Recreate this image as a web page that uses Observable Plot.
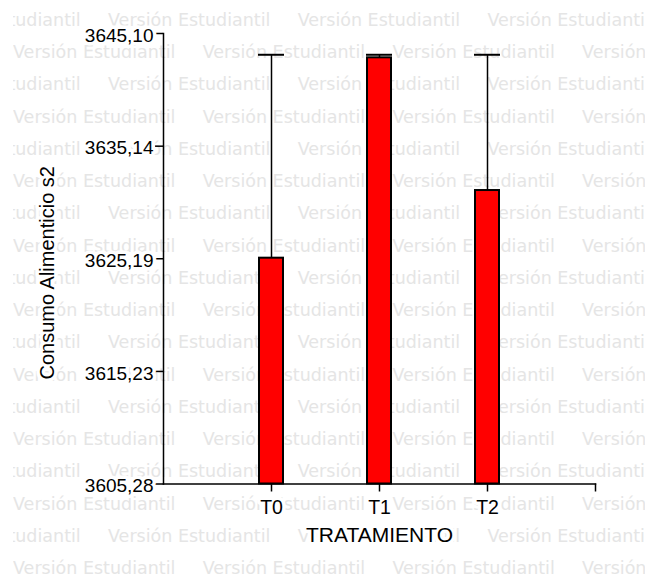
<!DOCTYPE html>
<html>
<head>
<meta charset="utf-8">
<script src="https://cdn.jsdelivr.net/npm/d3@7"></script>
<script src="https://cdn.jsdelivr.net/npm/@observablehq/plot@0.6"></script>
<style>
  body { margin: 0; background: #fff; }
  #wrap { position: relative; width: 649px; height: 578px; overflow: hidden; }
  #wm {
    position: absolute; left: 13px; top: 0; width: 632px; height: 578px; overflow: hidden;
    font-family: "DejaVu Sans", sans-serif; font-size: 17.5px; line-height: 17.5px;
    color: #e5e5e5; white-space: pre;
  }
  #wm span { position: absolute; }
  #chart { position: absolute; left: 0; top: 0; }
  g[aria-label="y-title"] text { letter-spacing: 2.6px; }
  g[aria-label="y-tick-labels"] text { letter-spacing: 0.5px; }
</style>
</head>
<body>
<div id="wrap"><div id="wm"></div><div id="chart"></div></div>
<script>
// Treatment means (bars) and the upper error of each one
const treatments = ["T0", "T1", "T2"];
const means = [3625.24, 3642.95, 3631.22];
const errors = [17.98, 0.27, 12.00];

// Y axis tick values (labelled with a decimal comma)
const yTicks = [3605.28, 3615.23, 3625.19, 3635.14, 3645.10];

const xTitle = "TRATAMIENTO";
const yTitle = "Consumo Alimenticio s2";
const watermark = "Versión Estudiantil";

const rows = treatments.map((t, i) => ({t, mean: means[i], hi: means[i] + errors[i]}));

// Layout
const W = 649, H = 578, mL = 163, mR = 54, mT = 33, mB = 94.5;
const padIn = 0.782, padOut = (1 + padIn) / 2;
const step = (W - mL - mR) / (treatments.length - padIn + 2 * padOut);
const yMin = yTicks[0], yMax = yTicks[yTicks.length - 1];
const fmt = v => v.toFixed(2).replace(".", ",");
const font = "'Liberation Sans', Arial, sans-serif";

const chart = Plot.plot({
  width: W,
  height: H,
  marginLeft: mL,
  marginRight: mR,
  marginTop: mT,
  marginBottom: mB,
  style: {background: "transparent", fontFamily: font, color: "black", overflow: "visible"},
  x: {type: "band", domain: treatments, paddingInner: padIn, paddingOuter: padOut},
  y: {domain: [yMin, yMax]},
  marks: [
    // axis lines
    Plot.frame({anchor: "left", strokeWidth: 1.5}),
    Plot.frame({anchor: "bottom", strokeWidth: 1.5}),
    // tick marks
    Plot.axisY(yTicks, {tickSize: 8, tickFormat: () => "", strokeWidth: 1.5, label: null}),
    Plot.axisX(treatments, {tickSize: 8, tickFormat: () => "", strokeWidth: 1.5, label: null}),
    // closing tick at the right end of the category axis
    Plot.ruleX([treatments[treatments.length - 1]], {x: d => d, dx: step, y1: yMin, y2: yMin, insetBottom: -8, strokeWidth: 1.5}),
    // tick labels
    Plot.text(yTicks, {
      y: d => d, text: fmt, frameAnchor: "left", textAnchor: "end", dx: -10, dy: 2,
      fontSize: 19, fill: "black", stroke: "white", strokeWidth: 7, paintOrder: "stroke",
      ariaLabel: "y-tick-labels"
    }),
    Plot.text(treatments, {
      x: d => d, text: d => d, frameAnchor: "bottom", lineAnchor: "top", dy: 16.5,
      fontSize: 19.5, fill: "black", stroke: "white", strokeWidth: 7, paintOrder: "stroke"
    }),
    // error bars (upper only)
    Plot.ruleX(rows, {x: "t", y1: "mean", y2: "hi", strokeWidth: 1.5}),
    // bars
    Plot.barY(rows, {x: "t", y1: yMin, y2: "mean", fill: "#ff0000", stroke: "black", strokeWidth: 2}),
    // error caps
    Plot.tickY(rows, {x: "t", y: "hi", strokeWidth: 2, insetLeft: -1, insetRight: -1}),
    // axis titles
    Plot.text([xTitle], {
      text: d => d, frameAnchor: "bottom", dy: 57.8, fontSize: 21,
      fill: "black", stroke: "white", strokeWidth: 7, paintOrder: "stroke"
    }),
    Plot.text([yTitle], {
      text: d => d, frameAnchor: "left", textAnchor: "middle", rotate: -90, dx: -116.4, dy: 14,
      fontSize: 20, fill: "black", stroke: "white", strokeWidth: 7, paintOrder: "stroke",
      ariaLabel: "y-title"
    })
  ]
});
document.getElementById("chart").appendChild(chart);

// Repeated light-grey "Versión Estudiantil" stamp behind the chart
const wm = document.getElementById("wm");
const rowGap = 32.25, firstBase = 26.7, period = 189.7, baseOffset = 14.8;
for (let r = 0; firstBase + r * rowGap < H + 20; r++) {
  const base = firstBase + r * rowGap;
  const start = r % 2 === 0 ? 95 : 0;
  for (let x = start - period; x < 632; x += period) {
    const s = document.createElement("span");
    s.textContent = watermark;
    s.style.left = x + "px";
    s.style.top = (base - baseOffset) + "px";
    wm.appendChild(s);
  }
}
</script>
</body>
</html>
